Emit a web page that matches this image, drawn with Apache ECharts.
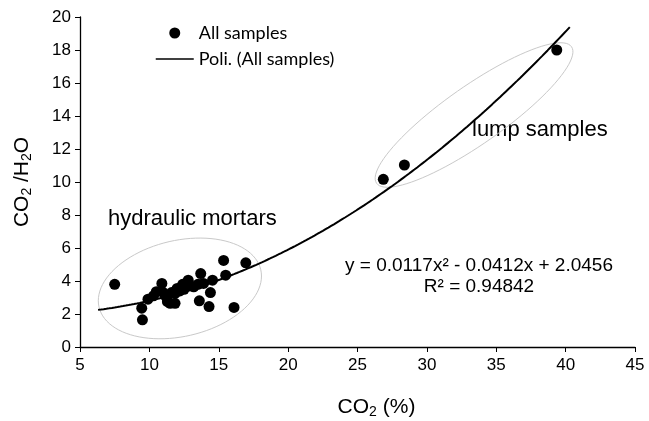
<!DOCTYPE html>
<html><head><meta charset="utf-8">
<script src="https://cdn.jsdelivr.net/npm/echarts@6/dist/echarts.min.js"></script>
<style>html,body{margin:0;padding:0;background:#fff}#c{width:649px;height:421px}</style>
</head><body><div id="c"></div>
<script>
// ---- data ----
const hydraulicSamples = [
  [7.5,3.8],[9.45,2.35],[9.5,1.65],[9.9,2.9],[10.3,3.1],[10.5,3.35],[10.9,3.85],[11.0,3.3],
  [11.2,3.05],[11.3,2.75],[11.5,2.65],[11.6,3.3],[11.85,2.65],[11.85,3.25],[12.0,3.55],[12.2,3.4],
  [12.4,3.8],[12.5,3.5],[12.8,4.05],[12.9,3.7],[13.2,3.65],[13.5,3.8],[13.6,2.8],[13.7,4.45],
  [13.9,3.85],[14.3,2.45],[14.4,3.3],[14.55,4.05],[15.35,5.25],[15.5,4.35],[16.1,2.4],[16.95,5.1]
];
const lumpSamples = [[26.86,10.16],[28.38,11.03],[39.36,18.0]];
const fitA = 0.0117, fitB = -0.0412, fitC = 2.0456;   // printed trend equation
const fitFrom = 6.3, fitTo = 40.3;
const seriesNames = ['All samples','Poli. (All samples)'];
const groupLabels = ['hydraulic mortars','lump samples'];
const groupCenters = [[12.2,3.55],[33.4,14.06]];
const equationText = 'y = 0.0117x² - 0.0412x + 2.0456';
const r2Text = 'R² = 0.94842';
const xMin = 5, xMax = 45, xStep = 5;
const yMin = 0, yMax = 20, yStep = 2;

// ---- build ----
const trend = [];
for (let i = 0; i <= 170; i++) {
  const x = fitFrom + (fitTo - fitFrom) * i / 170;
  trend.push([x, fitA * x * x + fitB * x + fitC]);
}
const ellipseShapes = [ {a:83, b:48, rot:13}, {a:119, b:29, rot:35} ];
const FONT = '"Liberation Sans", Arial, sans-serif';

const chart = echarts.init(document.getElementById('c'), null, {renderer:'canvas'});
chart.setOption({
  animation: false,
  backgroundColor: '#fff',
  grid: {left: 80, right: 14, top: 17, bottom: 74, containLabel: false, outerBoundsMode: 'none'},
  legend: {
    orient: 'vertical', left: 150, top: 18,
    itemWidth: 38, itemHeight: 11, itemGap: 6,
    data: [
      {name: seriesNames[0], icon: 'circle'},
      {name: seriesNames[1], itemStyle: {opacity: 0}, lineStyle: {color: '#000', width: 1.5}}
    ],
    textStyle: {fontFamily: 'Lato, sans-serif', fontSize: 18, color: '#000', lineHeight: 20}
  },
  xAxis: {
    type: 'value', min: xMin, max: xMax, interval: xStep,
    name: '{m|CO}{s|2}{m| (%)}', nameLocation: 'middle', nameGap: 48,
    nameTextStyle: {padding: [0,0,0,38], rich: {
      m: {fontFamily: FONT, fontSize: 21, color: '#000'},
      s: {fontFamily: FONT, fontSize: 14, color: '#000', padding: [10,0,0,0]}
    }},
    axisLine: {lineStyle: {color: '#000', width: 1.3}},
    axisTick: {show: true, length: 5, lineStyle: {color: '#000'}},
    axisLabel: {fontFamily: FONT, fontSize: 17, color: '#000', margin: 10},
    splitLine: {show: false}
  },
  yAxis: {
    type: 'value', min: yMin, max: yMax, interval: yStep,
    name: '{m|CO}{s|2}{m| /H}{s|2}{m|O}', nameLocation: 'middle', nameGap: 46,
    nameTextStyle: {rich: {
      m: {fontFamily: FONT, fontSize: 21, color: '#000'},
      s: {fontFamily: FONT, fontSize: 14, color: '#000', padding: [10,0,0,0]}
    }},
    axisLine: {show: true, lineStyle: {color: '#000', width: 1.3}},
    axisTick: {show: true, length: 5, lineStyle: {color: '#000'}},
    axisLabel: {fontFamily: FONT, fontSize: 17, color: '#000', margin: 9},
    splitLine: {show: false}
  },
  series: [
    {
      type: 'custom', name: 'groups', silent: true, z: 1,
      data: groupCenters,
      renderItem: function (params, api) {
        const c = api.coord([api.value(0), api.value(1)]);
        const e = ellipseShapes[params.dataIndex];
        const th = e.rot * Math.PI / 180;
        const pts = [];
        for (let k = 0; k < 96; k++) {
          const t = 2 * Math.PI * k / 96;
          const u = e.a * Math.cos(t), v = e.b * Math.sin(t);
          pts.push([c[0] + u * Math.cos(th) - v * Math.sin(th), c[1] - (u * Math.sin(th) + v * Math.cos(th))]);
        }
        return {type: 'polygon', shape: {points: pts}, style: {fill: 'none', stroke: '#c9c9c9', lineWidth: 1}};
      }
    },
    {
      type: 'line', name: seriesNames[1], data: trend, symbol: 'none', z: 3,
      lineStyle: {color: '#000', width: 2}, itemStyle: {color: '#000'}
    },
    {
      type: 'scatter', name: seriesNames[0], data: hydraulicSamples.concat(lumpSamples),
      symbol: 'circle', symbolSize: 11, z: 4, itemStyle: {color: '#000', opacity: 1}
    }
  ],
  graphic: [
    {type: 'text', left: 108, top: 208, style: {text: groupLabels[0], font: '22px ' + FONT, fill: '#000'}},
    {type: 'text', left: 472, top: 119, style: {text: groupLabels[1], font: '22px ' + FONT, fill: '#000'}},
    {type: 'text', x: 479, y: 266, style: {text: equationText, font: '19px ' + FONT, fill: '#000', align: 'center', verticalAlign: 'middle'}},
    {type: 'text', x: 479, y: 287, style: {text: r2Text, font: '19px ' + FONT, fill: '#000', align: 'center', verticalAlign: 'middle'}}
  ]
});
</script>
</body></html>
